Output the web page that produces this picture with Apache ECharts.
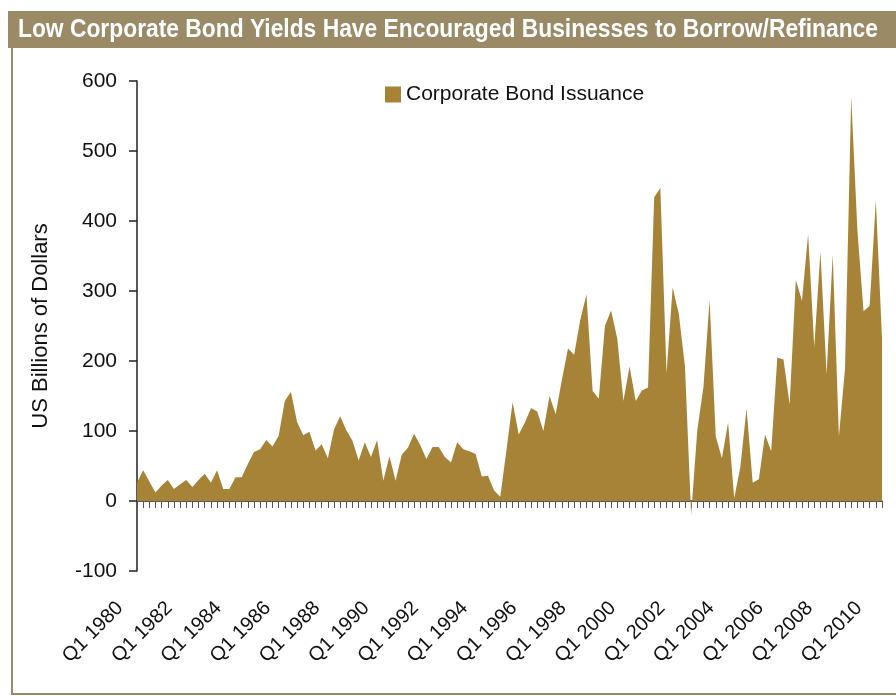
<!DOCTYPE html>
<html>
<head>
<meta charset="utf-8">
<style>
  html, body { margin: 0; padding: 0; background: #ffffff; }
  #chart { width: 896px; height: 696px; }
</style>
<script src="https://cdn.jsdelivr.net/npm/echarts@6/dist/echarts.min.js"></script>
</head>
<body>
<div id="chart"></div>
<script>
// Quarterly corporate bond issuance, US$ billions, Q1 1980 – Q2 2010
const years = [];
for (let y = 1980; y <= 2010; y++) years.push(y);
const quarters = [];
years.forEach(function (y) {
  for (let q = 1; q <= 4; q++) {
    if (y === 2010 && q > 2) break;
    quarters.push('Q' + q + ' ' + y);
  }
});

const issuance = [
  26, 44, 28, 12, 22, 30, 17, 24,       // 1980-81
  30, 20, 30, 39, 26, 44, 17, 17,       // 1982-83
  34, 34, 53, 70, 74, 87, 78, 93,       // 1984-85
  143, 156, 113, 94, 99, 72, 81, 61,    // 1986-87
  102, 121, 101, 86, 58, 84, 63, 87,    // 1988-89
  29, 64, 29, 66, 76, 96, 80, 60,       // 1990-91
  77, 77, 63, 55, 84, 74, 71, 67,       // 1992-93
  35, 36, 15, 6, 72, 141, 95, 112,      // 1994-95
  133, 128, 100, 150, 124, 173, 218, 209, // 1996-97
  259, 295, 157, 146, 250, 272, 232, 143, // 1998-99
  192, 143, 158, 162, 434, 447, 183, 305, // 2000-01
  267, 192, -20, 101, 163, 287, 92, 61,   // 2002-03
  112, 4, 49, 132, 26, 31, 95, 71,        // 2004-05
  205, 202, 138, 316, 286, 381, 220, 356, // 2006-07
  181, 352, 92, 190, 578, 387, 271, 279,  // 2008-09
  430, 232                                // 2010
];

const yTicks = { min: -100, max: 600, step: 100 };
const titleText = 'Low Corporate Bond Yields Have Encouraged Businesses to Borrow/Refinance';
const seriesName = 'Corporate Bond Issuance';
const yAxisTitle = 'US Billions of Dollars';

const FILL = '#a68337';
const FRAME = '#9a8a66';

// The heading uses a condensed look: squeeze a bold face to the band width.
const TITLE_FONT = 'bold 26px "Liberation Sans", Arial, sans-serif';
const TITLE_WIDTH = 860;
const measureCtx = document.createElement('canvas').getContext('2d');
measureCtx.font = TITLE_FONT;
const titleScale = TITLE_WIDTH / measureCtx.measureText(titleText).width;

const chart = echarts.init(document.getElementById('chart'), null, { renderer: 'canvas' });

chart.setOption({
  animation: false,
  backgroundColor: '#ffffff',
  graphic: [
    // heading band
    { type: 'rect', shape: { x: 8, y: 11, width: 888, height: 37 }, style: { fill: FRAME }, z: 0 },
    // frame lines
    { type: 'rect', shape: { x: 11, y: 48, width: 2, height: 647 }, style: { fill: FRAME }, z: 0 },
    { type: 'rect', shape: { x: 11, y: 693, width: 885, height: 2 }, style: { fill: FRAME }, z: 0 },
    {
      type: 'text',
      x: 18, y: 30,
      scaleX: titleScale,
      style: {
        text: titleText,
        font: TITLE_FONT,
        fill: '#ffffff',
        textVerticalAlign: 'middle',
        verticalAlign: 'middle'
      },
      z: 2
    }
  ],
  legend: {
    data: [{ name: seriesName, icon: 'rect' }],
    left: 380,
    top: 79,
    itemWidth: 16,
    itemHeight: 16,
    itemGap: 6,
    textStyle: {
      color: '#111111',
      fontFamily: '"Liberation Sans", Arial, sans-serif',
      fontSize: 21
    }
  },
  grid: { left: 137, right: 14, top: 81, bottom: 125, containLabel: false, outerBoundsMode: 'none' },
  xAxis: {
    type: 'category',
    data: quarters,
    boundaryGap: false,
    axisLine: { onZero: true, lineStyle: { color: '#222222', width: 1.5 } },
    axisTick: { show: true, interval: 0, length: 7, lineStyle: { color: '#555555', width: 1 } },
    axisLabel: {
      interval: 7,
      rotate: 45,
      margin: 17,
      padding: [0, 24, 0, 0],
      color: '#111111',
      fontFamily: '"Liberation Sans", Arial, sans-serif',
      fontSize: 20
    },
    splitLine: { show: false }
  },
  yAxis: {
    type: 'value',
    min: yTicks.min,
    max: yTicks.max,
    interval: yTicks.step,
    name: yAxisTitle,
    nameLocation: 'middle',
    nameGap: 85,
    nameRotate: 90,
    nameTextStyle: {
      color: '#111111',
      fontFamily: '"Liberation Sans", Arial, sans-serif',
      fontSize: 22
    },
    axisLine: { show: true, lineStyle: { color: '#222222', width: 1.5 } },
    axisTick: { show: true, length: 8, lineStyle: { color: '#222222', width: 1.5 } },
    axisLabel: {
      margin: 20,
      color: '#111111',
      fontFamily: '"Liberation Sans", Arial, sans-serif',
      fontSize: 21
    },
    splitLine: { show: false }
  },
  series: [{
    name: seriesName,
    type: 'line',
    data: issuance,
    symbol: 'none',
    itemStyle: { color: FILL },
    lineStyle: { width: 0, color: FILL },
    areaStyle: { color: FILL, opacity: 1 },
    z: 1
  }]
});
</script>
</body>
</html>
